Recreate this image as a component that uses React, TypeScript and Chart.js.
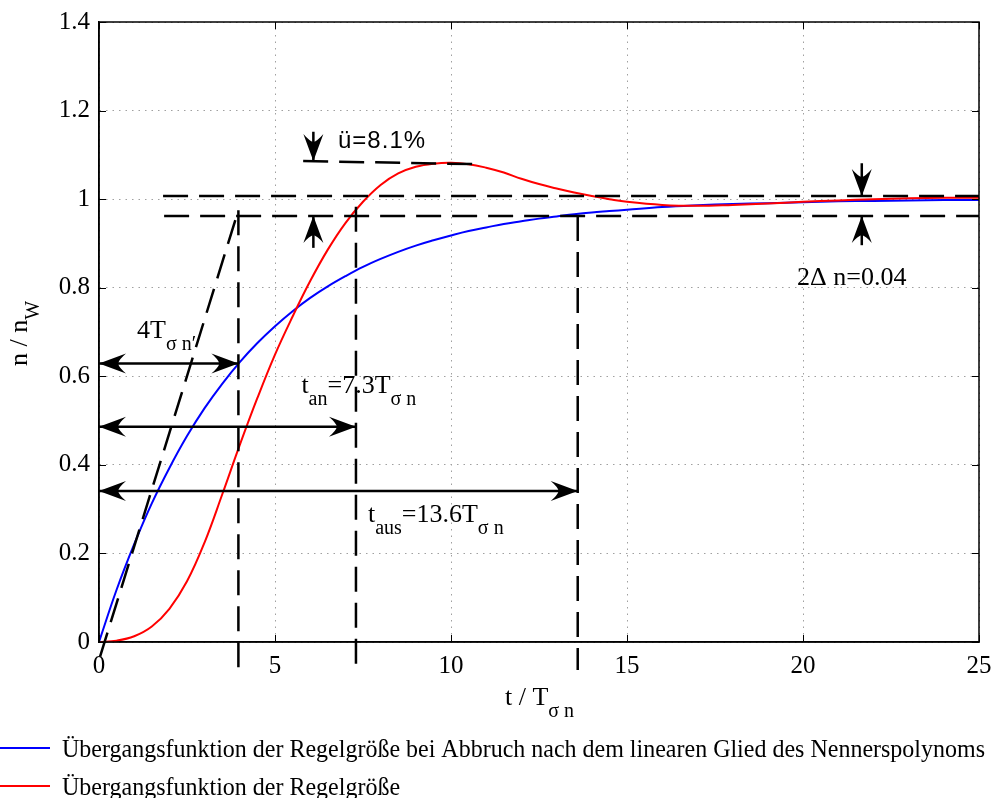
import React, { useEffect, useRef } from "react";
import { Chart, registerables } from "chart.js";

Chart.register(...registerables);

const SERIF = '"Liberation Serif", "Times New Roman", serif';
const SANS = '"Liberation Sans", Arial, sans-serif';

// t / T_σn sample points
const tGrid = [0, 0.5, 1, 1.5, 2, 2.5, 3, 3.5, 4, 4.5, 5, 5.5, 6, 6.5, 7, 7.5, 8, 8.5, 9, 9.5, 10,
  10.5, 11, 11.5, 12, 12.5, 13, 13.5, 14, 14.5, 15, 16, 17, 18, 19, 20, 21, 22, 23, 24, 25];

// Übergangsfunktion bei Abbruch nach dem linearen Glied (blue)
const blueValues = [0, 0.118, 0.221, 0.313, 0.393, 0.465, 0.528, 0.583, 0.632, 0.675, 0.713, 0.747,
  0.777, 0.803, 0.826, 0.847, 0.865, 0.881, 0.895, 0.907, 0.918, 0.928, 0.936, 0.944, 0.95, 0.956,
  0.961, 0.966, 0.97, 0.973, 0.976, 0.982, 0.986, 0.989, 0.991, 0.993, 0.995, 0.996, 0.997, 0.998, 0.998];

// Übergangsfunktion der Regelgröße (red)
const redValues = [0, 0.003, 0.013, 0.035, 0.075, 0.137, 0.225, 0.333, 0.445, 0.551, 0.649, 0.735,
  0.815, 0.886, 0.946, 0.994, 1.032, 1.058, 1.073, 1.08, 1.082, 1.079, 1.071, 1.06, 1.046, 1.034,
  1.024, 1.015, 1.007, 1.0, 0.994, 0.987, 0.985, 0.987, 0.99, 0.994, 0.997, 1.0, 1.002, 1.003, 1.003];

const xTickValues = [0, 5, 10, 15, 20, 25];
const yTickValues = [0, 0.2, 0.4, 0.6, 0.8, 1, 1.2, 1.4];

const legendLabels = [
  "Übergangsfunktion der Regelgröße bei Abbruch nach dem linearen Glied des Nennerspolynoms",
  "Übergangsfunktion der Regelgröße",
];
const seriesColors = ["#0000ff", "#ff0000"];

// dashed construction lines: [t1, v1, t2, v2]
const tangentLine = [0.03, -0.033, 3.96, 0.975];
const upperBandLine = [1.82, 1.007, 25, 1.007];
const lowerBandLine = [1.85, 0.962, 25, 0.962];
const overshootLine = [5.8, 1.086, 10.73, 1.079];
const markerTimes = [3.96, 7.3, 13.6];
const markerTops = [0.975, 0.983, 0.962];
const markerBottom = -0.063;

// horizontal double arrows from t=0
const spanLevels = [0.629, 0.486, 0.341];
const spanEnds = [3.96, 7.3, 13.6];

// vertical pointer arrows: [t, from, to]
const pointerArrows = [
  [6.09, 1.152, 1.086],
  [6.09, 0.89, 0.962],
  [21.67, 1.081, 1.007],
  [21.67, 0.896, 0.962],
];

// annotation anchors (left, baseline) in data units and rich text parts
const noteT = [1.08, 5.75, 7.64];
const noteV = [0.686, 0.562, 0.2716];
const noteParts: [string, boolean][][] = [
  [["4T", false], ["σ n′", true]],
  [["t", false], ["an", true], ["=7.3T", false], ["σ n", true]],
  [["t", false], ["aus", true], ["=13.6T", false], ["σ n", true]],
];
const overshootText = "ü=8.1%";
const overshootAnchor = [6.79, 1.115];
const bandText = "2Δ n=0.04";
const bandAnchor = [19.83, 0.806];

const xTitleParts: [string, boolean][] = [["t / T", false], ["σ n", true]];
const yTitleParts: [string, boolean][] = [["n / n", false], ["W", true]];

function drawRich(ctx: CanvasRenderingContext2D, parts: [string, boolean][], x: number, y: number,
  size = 26, subSize = 20, subDy = 12) {
  let cx = x;
  for (const [s, sub] of parts) {
    ctx.font = `${sub ? subSize : size}px ${SERIF}`;
    ctx.fillText(s, cx, y + (sub ? subDy : 0));
    cx += ctx.measureText(s).width;
  }
}

function drawHead(ctx: CanvasRenderingContext2D, tipX: number, tipY: number, fromX: number, fromY: number) {
  const ang = Math.atan2(tipY - fromY, tipX - fromX);
  const L = 27, W = 10, N = 19;
  ctx.save();
  ctx.translate(tipX, tipY);
  ctx.rotate(ang);
  ctx.beginPath();
  ctx.moveTo(0, 0);
  ctx.lineTo(-L, -W);
  ctx.quadraticCurveTo(-N - 1, -4, -N, 0);
  ctx.quadraticCurveTo(-N - 1, 4, -L, W);
  ctx.closePath();
  ctx.fill();
  ctx.restore();
}

const seg = (a: number[]) => [{ x: a[0], y: a[1] }, { x: a[2], y: a[3] }];

const annotationPlugin = {
  id: "annotations",
  afterDraw(chart: any) {
    const ctx: CanvasRenderingContext2D = chart.ctx;
    const xs = chart.scales.x;
    const ys = chart.scales.y;
    const px = (t: number) => xs.getPixelForValue(t);
    const py = (v: number) => ys.getPixelForValue(v);
    const area = chart.chartArea;
    ctx.save();
    ctx.fillStyle = "#000";
    ctx.strokeStyle = "#000";

    // inner ticks
    ctx.lineWidth = 1;
    ctx.beginPath();
    for (const v of yTickValues) {
      const y = Math.round(py(v)) + 0.5;
      ctx.moveTo(area.left, y); ctx.lineTo(area.left + 7, y);
      ctx.moveTo(area.right, y); ctx.lineTo(area.right - 7, y);
    }
    for (const t of xTickValues) {
      const x = Math.round(px(t)) + 0.5;
      ctx.moveTo(x, area.bottom); ctx.lineTo(x, area.bottom - 7);
      ctx.moveTo(x, area.top); ctx.lineTo(x, area.top + 7);
    }
    ctx.stroke();

    // box
    ctx.lineWidth = 1.5;
    ctx.strokeRect(area.left, area.top, area.right - area.left, area.bottom - area.top);

    // arrow heads
    spanLevels.forEach((lv, i) => {
      const y = py(lv);
      drawHead(ctx, px(0), y, px(spanEnds[i]), y);
      drawHead(ctx, px(spanEnds[i]), y, px(0), y);
    });
    pointerArrows.forEach(([t, a, b]) => {
      drawHead(ctx, px(t), py(b), px(t), py(a));
    });

    // annotation texts
    ctx.textAlign = "left";
    ctx.textBaseline = "alphabetic";
    noteParts.forEach((parts, i) => drawRich(ctx, parts, px(noteT[i]), py(noteV[i])));
    ctx.font = `26px ${SERIF}`;
    ctx.fillText(bandText, px(bandAnchor[0]), py(bandAnchor[1]));
    ctx.font = `24px ${SANS}`;
    (ctx as any).letterSpacing = "1px";
    ctx.fillText(overshootText, px(overshootAnchor[0]), py(overshootAnchor[1]));
    (ctx as any).letterSpacing = "0px";

    // axis titles
    drawRich(ctx, xTitleParts, 505, 705);
    ctx.save();
    ctx.translate(27, 366);
    ctx.rotate(-Math.PI / 2);
    drawRich(ctx, yTitleParts, 0, 0);
    ctx.restore();

    // legend
    ctx.font = `26px ${SERIF}`;
    const w0 = ctx.measureText(legendLabels[0]).width;
    const sx = 923 / w0;
    legendLabels.forEach((label, i) => {
      const y = 748 + i * 38;
      ctx.strokeStyle = seriesColors[i];
      ctx.lineWidth = 2;
      ctx.beginPath();
      ctx.moveTo(0, y); ctx.lineTo(50, y);
      ctx.stroke();
      ctx.save();
      ctx.translate(62, y + 9);
      ctx.scale(sx, 1);
      ctx.fillStyle = "#000";
      ctx.fillText(label, 0, 0);
      ctx.restore();
    });
    ctx.restore();
  },
};

export default function App() {
  const ref = useRef<HTMLCanvasElement>(null);
  useEffect(() => {
    document.body.style.margin = "0";
    const canvas = ref.current!;
    const dashed = (data: any[]) => ({
      data, borderColor: "#000", borderWidth: 2.5, borderDash: [25, 11], pointRadius: 0,
      clip: false as const, order: 0, tension: 0,
    });
    const solid = (data: any[]) => ({
      data, borderColor: "#000", borderWidth: 2.5, pointRadius: 0, clip: false as const, order: 0, tension: 0,
    });
    const datasets: any[] = [
      dashed(seg(tangentLine)),
      dashed(seg(upperBandLine)),
      dashed(seg(lowerBandLine)),
      dashed(seg(overshootLine)),
      ...markerTimes.map((t, i) => dashed(seg([t, markerTops[i], t, markerBottom]))),
      ...spanLevels.map((lv, i) => solid(seg([0, lv, spanEnds[i], lv]))),
      ...pointerArrows.map(([t, a, b]) => solid(seg([t, a, t, b]))),
      {
        label: legendLabels[0],
        data: tGrid.map((t, i) => ({ x: t, y: blueValues[i] })),
        borderColor: seriesColors[0], borderWidth: 2, pointRadius: 0,
        tension: 0.4, order: 2,
      },
      {
        label: legendLabels[1],
        data: tGrid.map((t, i) => ({ x: t, y: redValues[i] })),
        borderColor: seriesColors[1], borderWidth: 2, pointRadius: 0,
        tension: 0.4, order: 1,
      },
    ];
    const chart = new Chart(canvas, {
      type: "line",
      data: { datasets },
      options: {
        responsive: false,
        animation: false,
        events: [],
        layout: { padding: { top: 22, right: 14, left: 0, bottom: 0 } },
        plugins: { legend: { display: false }, tooltip: { enabled: false } },
        scales: {
          x: {
            type: "linear", min: 0, max: 25,
            afterBuildTicks: (s: any) => { s.ticks = xTickValues.map((v) => ({ value: v })); },
            afterFit: (s: any) => { s.height = 156; s.paddingLeft = 0; s.paddingRight = 0; },
            grid: { color: "#a0a0a0", lineWidth: 1, drawTicks: false },
            border: { display: true, color: "#000", width: 1.5, dash: [1.5, 5] },
            ticks: {
              padding: 9, color: "#000", maxRotation: 0, autoSkip: false,
              font: { family: SERIF, size: 25 },
              callback: (v: any) => String(v),
            },
          },
          y: {
            type: "linear", min: 0, max: 1.4,
            afterBuildTicks: (s: any) => { s.ticks = yTickValues.map((v) => ({ value: v })); },
            afterFit: (s: any) => { s.width = 99; s.paddingTop = 0; s.paddingBottom = 0; },
            grid: { color: "#a0a0a0", lineWidth: 1, drawTicks: false },
            border: { display: true, color: "#000", width: 1.5, dash: [1.5, 5] },
            ticks: {
              padding: 9, color: "#000", autoSkip: false,
              font: { family: SERIF, size: 25 },
              callback: (v: any) => String(Math.round(Number(v) * 10) / 10),
            },
          },
        },
      } as any,
      plugins: [annotationPlugin],
    });
    return () => chart.destroy();
  }, []);
  return (
    <div style={{ position: "absolute", left: 0, top: 0, width: 993, height: 798, background: "#fff" }}>
      <canvas ref={ref} width={993} height={798} style={{ display: "block" }} />
    </div>
  );
}
